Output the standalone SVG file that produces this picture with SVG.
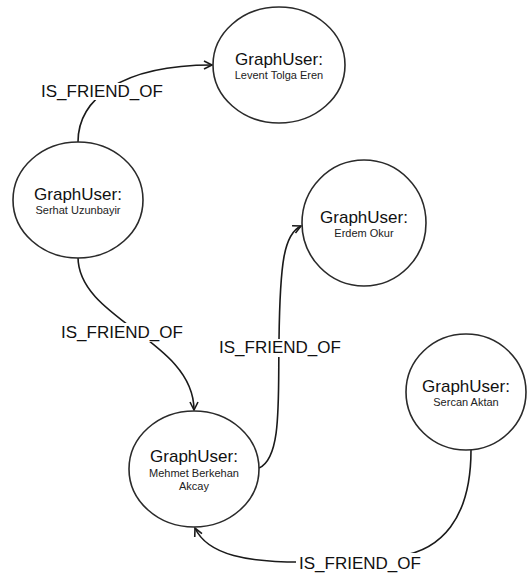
<svg xmlns="http://www.w3.org/2000/svg" width="527" height="575" viewBox="0 0 527 575">
  <style>
    .node { fill: #fff; stroke: #2a2a2a; stroke-width: 1.6; }
    .title { font-family: "Liberation Sans", Arial, sans-serif; font-size: 17px; fill: #111; text-anchor: middle; }
    .name { font-family: "Liberation Sans", Arial, sans-serif; font-size: 11px; fill: #222; text-anchor: middle; }
    .edge { fill: none; stroke: #1a1a1a; stroke-width: 1.6; }
    .lbl-bg { fill: #fff; }
    .lbl { font-family: "Liberation Sans", Arial, sans-serif; font-size: 17px; fill: #111; text-anchor: middle; }
  </style>
  <defs>
    <marker id="arrow" markerUnits="userSpaceOnUse" markerWidth="12" markerHeight="12" refX="9" refY="5" orient="auto">
      <path d="M1,1 L9,5 L1,9" fill="none" stroke="#1a1a1a" stroke-width="1.6"/>
    </marker>
  </defs>
  <rect width="527" height="575" fill="#fff"/>

  <g id="connectors">
    <path class="edge" d="M78,142 C78,100 120,65 212,65" marker-end="url(#arrow)"/>
    <path class="edge" d="M78,257 C78,320 194,340 194,410" marker-end="url(#arrow)"/>
    <path class="edge" d="M259,468 C282,458 278,400 279,340 C280,262 284,234 301,226" marker-end="url(#arrow)"/>
    <path class="edge" d="M471,450 C471,520 440,550 400,556 L300,562 C250,562 208,556 195,528" marker-end="url(#arrow)"/>

    <g id="label-1">
      <rect class="lbl-bg" x="40" y="83" width="126" height="17"/>
      <text class="lbl" x="102" y="97">IS_FRIEND_OF</text>
    </g>
    <g id="label-2">
      <rect class="lbl-bg" x="59" y="323" width="126" height="19"/>
      <text class="lbl" x="122" y="338">IS_FRIEND_OF</text>
    </g>
    <g id="label-3">
      <rect class="lbl-bg" x="216" y="339" width="127" height="18"/>
      <text class="lbl" x="280" y="353">IS_FRIEND_OF</text>
    </g>
    <g id="label-4">
      <rect class="lbl-bg" x="296" y="553" width="128" height="20"/>
      <text class="lbl" x="360" y="569">IS_FRIEND_OF</text>
    </g>
  </g>

  <g id="node-levent">
    <ellipse class="node" cx="279" cy="65" rx="66" ry="58"/>
    <text class="title" x="279" y="65">GraphUser:</text>
    <text class="name" x="279" y="79">Levent Tolga Eren</text>
  </g>

  <g id="node-serhat">
    <ellipse class="node" cx="78" cy="200" rx="65" ry="58"/>
    <text class="title" x="78" y="200">GraphUser:</text>
    <text class="name" x="78" y="214">Serhat Uzunbayir</text>
  </g>

  <g id="node-erdem">
    <ellipse class="node" cx="364" cy="223" rx="62" ry="63"/>
    <text class="title" x="364" y="223">GraphUser:</text>
    <text class="name" x="364" y="237">Erdem Okur</text>
  </g>

  <g id="node-sercan">
    <ellipse class="node" cx="466" cy="392" rx="60" ry="58"/>
    <text class="title" x="466" y="392">GraphUser:</text>
    <text class="name" x="466" y="406">Sercan Aktan</text>
  </g>

  <g id="node-mehmet">
    <ellipse class="node" cx="194" cy="469" rx="65" ry="58"/>
    <text class="title" x="194" y="462">GraphUser:</text>
    <text class="name" x="194" y="477">Mehmet Berkehan</text>
    <text class="name" x="194" y="490">Akcay</text>
  </g>
</svg>
